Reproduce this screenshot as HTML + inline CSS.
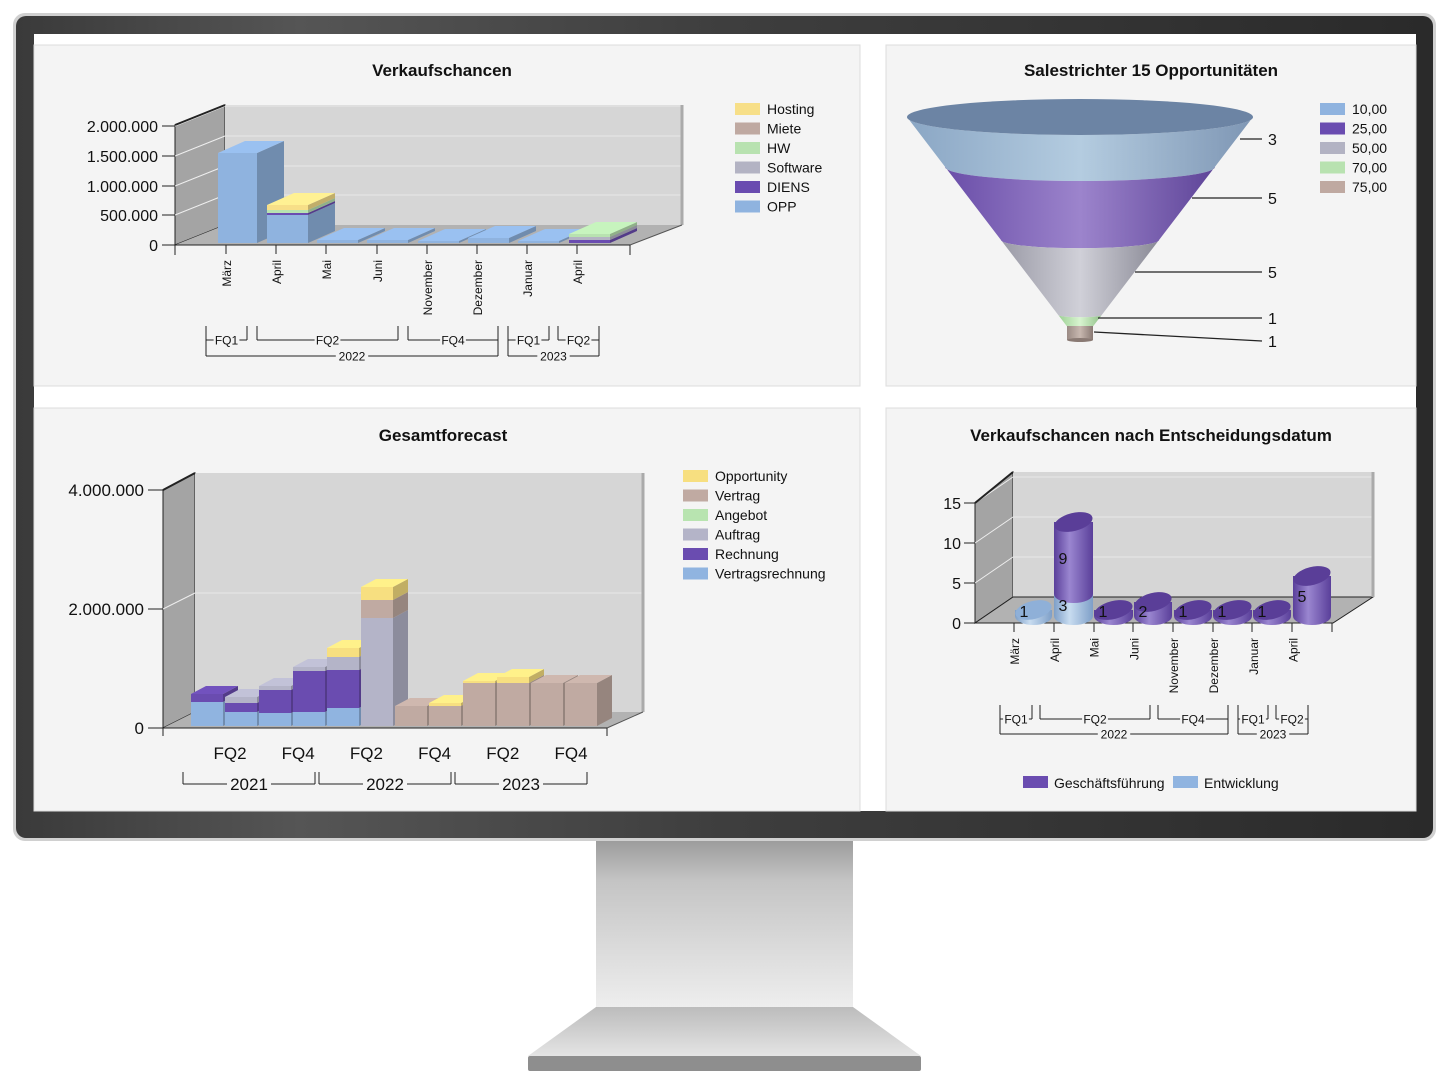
<!DOCTYPE html>
<html><head><meta charset="utf-8"><style>
html,body{margin:0;padding:0;background:#fff;width:1449px;height:1091px;overflow:hidden}
svg{display:block}
text{font-family:"Liberation Sans Narrow","Liberation Sans",sans-serif;fill:#111}
</style></head><body>
<svg id="s" width="1449" height="1091" viewBox="0 0 1449 1091" xmlns="http://www.w3.org/2000/svg">
<defs>
<linearGradient id="bez" x1="0" y1="0" x2="1" y2="0">
<stop offset="0" stop-color="#3a3a3a"/><stop offset="0.2" stop-color="#555"/><stop offset="0.5" stop-color="#3e3e3e"/><stop offset="1" stop-color="#2a2a2a"/></linearGradient>
<linearGradient id="neck" x1="0" y1="0" x2="0" y2="1">
<stop offset="0" stop-color="#999"/><stop offset="0.25" stop-color="#c4c4c4"/><stop offset="0.6" stop-color="#d8d8d8"/><stop offset="1" stop-color="#eee"/></linearGradient>
<linearGradient id="base" x1="0" y1="0" x2="0" y2="1">
<stop offset="0" stop-color="#bcbcbc"/><stop offset="1" stop-color="#e4e4e4"/></linearGradient>
<linearGradient id="cylP" x1="0" y1="0" x2="1" y2="0">
<stop offset="0" stop-color="#5a3f9a"/><stop offset="0.4" stop-color="#9a86d0"/><stop offset="1" stop-color="#5a3f9a"/></linearGradient>
<linearGradient id="cylB" x1="0" y1="0" x2="1" y2="0">
<stop offset="0" stop-color="#7e9fc8"/><stop offset="0.4" stop-color="#c8dcf0"/><stop offset="1" stop-color="#7e9fc8"/></linearGradient>
<linearGradient id="fBlue" x1="0" y1="0" x2="1" y2="0"><stop offset="0" stop-color="#8aa6c4"/><stop offset="0.5" stop-color="#b4cce0"/><stop offset="1" stop-color="#7e96b4"/></linearGradient>
<linearGradient id="fPur" x1="0" y1="0" x2="1" y2="0"><stop offset="0" stop-color="#6a4ea8"/><stop offset="0.5" stop-color="#9c84cc"/><stop offset="1" stop-color="#5e4498"/></linearGradient>
<linearGradient id="fGray" x1="0" y1="0" x2="1" y2="0"><stop offset="0" stop-color="#9a9aa6"/><stop offset="0.5" stop-color="#d0d0d8"/><stop offset="1" stop-color="#8a8a96"/></linearGradient>
<linearGradient id="fGreen" x1="0" y1="0" x2="1" y2="0"><stop offset="0" stop-color="#9cd094"/><stop offset="0.5" stop-color="#d8f4d0"/><stop offset="1" stop-color="#90c088"/></linearGradient>
<linearGradient id="fTaupe" x1="0" y1="0" x2="1" y2="0"><stop offset="0" stop-color="#9a8a84"/><stop offset="0.5" stop-color="#c8b8b0"/><stop offset="1" stop-color="#8a7a74"/></linearGradient>
</defs>
<rect x="596" y="838" width="257" height="170" fill="url(#neck)"/>
<polygon points="596,1007 853,1007 921,1056 528,1056" fill="url(#base)"/>
<rect x="528" y="1056" width="393" height="15" rx="2" fill="#8e8e8e"/>
<rect x="13" y="13" width="1423" height="828" rx="12" fill="#d0d0d0"/>
<rect x="16" y="16" width="1417" height="822" rx="10" fill="url(#bez)"/>
<rect x="34" y="34" width="1382" height="777" fill="#fff"/>
<rect x="34" y="45" width="826" height="341" fill="#f4f4f4" stroke="#ddd"/>
<rect x="886" y="45" width="530" height="341" fill="#f4f4f4" stroke="#ddd"/>
<rect x="34" y="408" width="826" height="403" fill="#f4f4f4" stroke="#ddd"/>
<rect x="886" y="408" width="530" height="403" fill="#f4f4f4" stroke="#ddd"/>
<g id="g"></g>
</svg>
<script>
var g=document.getElementById('g'),o='',labs='';
function shade(c,f){var n=parseInt(c.slice(1),16),r=(n>>16)&255,gg=(n>>8)&255,b=n&255;r=Math.round(r*f);gg=Math.round(gg*f);b=Math.round(b*f);return 'rgb('+Math.min(r,255)+','+Math.min(gg,255)+','+Math.min(b,255)+')';}
function T(x,y,s,sz,anc,extra){o+='<text x="'+x+'" y="'+y+'" font-size="'+sz+'" text-anchor="'+(anc||'start')+'" '+(extra||'')+'>'+s+'</text>';}
function P(pts,fill,st){o+='<polygon points="'+pts+'" fill="'+fill+'" stroke="'+(st||'none')+'" stroke-width="1"/>';}
function L(x1,y1,x2,y2,c,w){o+='<line x1="'+x1+'" y1="'+y1+'" x2="'+x2+'" y2="'+y2+'" stroke="'+(c||'#222')+'" stroke-width="'+(w||1)+'"/>';}
function bar(x,yb,w,segs,dx,dy){var y=yb;segs.forEach(function(s){var y2=y-s[0];o+='<rect x="'+x+'" y="'+y2+'" width="'+w+'" height="'+s[0]+'" fill="'+s[1]+'"/>';P((x+w)+','+y+' '+(x+w+dx)+','+(y+dy)+' '+(x+w+dx)+','+(y2+dy)+' '+(x+w)+','+y2,shade(s[1],0.78));y=y2;});var c=segs[segs.length-1][1];P(x+','+y+' '+(x+w)+','+y+' '+(x+w+dx)+','+(y+dy)+' '+(x+dx)+','+(y+dy),shade(c,1.08));}
function legend(x,y,items,step,sz){items.forEach(function(it,i){o+='<rect x="'+x+'" y="'+(y+i*step-6)+'" width="25" height="12" fill="'+it[1]+'"/>';T(x+32,y+i*step+5,it[0],sz);});}
function bracket(x1,x2,y,lab,sz,top){L(x1,y-(top||14),x1,y);L(x2,y-(top||14),x2,y);L(x1,y,x2,y);var w=lab.length*sz*0.55+6,cx=(x1+x2)/2;o+='<rect x="'+(cx-w/2)+'" y="'+(y-sz/2)+'" width="'+w+'" height="'+sz+'" fill="#f4f4f4"/>';T(cx,y+sz*0.38,lab,sz,'middle');}
var C={opp:'#8fb3df',diens:'#6a4cb0',sw:'#b3b3c3',hw:'#b8e2b0',miete:'#bfa9a1',host:'#f7df88'};
T(442,76,'Verkaufschancen',17,'middle','font-weight="bold"');
P('175,125 225,105 225,225 175,245','#a4a4a4','#222');
P('225,105 682,105 682,225 225,225','#d6d6d6');
P('175,245 630,245 682,225 225,225','#b2b2b2');
[126,156,186,215].forEach(function(y){L(175,y,225,y-20,'#eee');L(225,y-20,682,y-20,'#e8e8e8');});
L(682,105,682,225,'#aaa',3);L(630,245,682,225,'#555');
L(175,245,630,245,'#222');L(175,125,225,105,'#222',2);
[['2.000.000',126],['1.500.000',156],['1.000.000',186],['500.000',215],['0',245]].forEach(function(a){T(158,a[1]+6,a[0],16,'end');L(162,a[1],175,a[1]);});
bar(218,243,39,[[90,C.opp]],27,-12);
bar(267,243,41,[[28,C.opp],[2,C.diens],[3,C.hw],[5,C.host]],27,-12);
bar(317,243,41,[[3,C.opp]],27,-12);bar(367,243,41,[[3,C.opp]],27,-12);
bar(418,243,41,[[2,C.opp]],27,-12);bar(468,243,41,[[5,C.opp]],27,-12);
bar(518,243,41,[[2,C.opp]],27,-12);bar(569,243,41,[[3,C.diens],[3,C.sw],[3,C.hw]],27,-12);
[226,276,326,377,427,477,527,577].forEach(function(x,i){L(x,245,x,254);var n=['März','April','Mai','Juni','November','Dezember','Januar','April'][i];o+='<text x="'+(x+5)+'" y="260" font-size="12" text-anchor="end" transform="rotate(-90 '+(x+5)+' 260)">'+n+'</text>';});
L(175,245,175,255);L(630,245,630,255);
bracket(206,247,340,'FQ1',12);bracket(257,398,340,'FQ2',12);bracket(408,498,340,'FQ4',12);bracket(508,549,340,'FQ1',12);bracket(558,599,340,'FQ2',12);
bracket(206,498,356,'2022',12,16);bracket(508,599,356,'2023',12,16);
legend(735,109,[['Hosting',C.host],['Miete',C.miete],['HW',C.hw],['Software',C.sw],['DIENS',C.diens],['OPP',C.opp]],19.5,14);
T(1151,76,'Salestrichter 15 Opportunitäten',17,'middle','font-weight="bold"');
function hw(y){return 173-(y-117)*0.764;}
function seg(y1,y2,fill){var a=hw(y1),b=hw(y2);o+='<path d="M'+(1080-a)+','+y1+' A'+a+','+(a*0.104)+' 0 0 0 '+(1080+a)+','+y1+' L'+(1080+b)+','+y2+' A'+b+','+(b*0.104)+' 0 0 1 '+(1080-b)+','+y2+' Z" fill="'+fill+'"/>';}
seg(117,167,'url(#fBlue)');seg(167,240,'url(#fPur)');seg(240,315,'url(#fGray)');seg(315,326,'url(#fGreen)');
o+='<rect x="1067" y="326" width="26" height="14" fill="url(#fTaupe)"/><ellipse cx="1080" cy="340" rx="13" ry="2" fill="#8a7a74"/>';
o+='<ellipse cx="1080" cy="117" rx="173" ry="18" fill="#6c84a4"/>';
[[1240,139,1262,'3'],[1192,198,1262,'5'],[1135,272,1262,'5'],[1098,318,1262,'1'],[1094,332,1262,'1']].forEach(function(a,i){L(a[0],a[1],a[2],i==4?341:a[1],'#222',1.3);T(1268,(i==4?341:a[1])+6,a[3],16);});
legend(1320,109,[['10,00','#8fb3df'],['25,00','#6a4cb0'],['50,00','#b3b3c3'],['70,00','#b8e2b0'],['75,00','#bfa9a1']],19.5,14);
T(443,441,'Gesamtforecast',17,'middle','font-weight="bold"');
P('163,490 195,473 195,712 163,728','#a4a4a4','#222');
P('195,473 643,473 643,712 195,712','#d6d6d6');
P('163,728 607,728 643,712 195,712','#b2b2b2');
L(163,609,195,593,'#eee');L(195,593,643,593,'#e8e8e8');
L(643,473,643,712,'#aaa',3);L(607,728,643,712,'#555');L(163,728,607,728,'#222');L(163,490,195,473,'#222',2);
[['4.000.000',490],['2.000.000',609],['0',728]].forEach(function(a){T(144,a[1]+6,a[0],17,'end');L(148,a[1],163,a[1]);});
var D={op:'#f7df80',ve:'#c0aaa2',an:'#b8e4b0',au:'#b4b4c8',re:'#6a4cb0',vr:'#90b4e0'};
var B=[[[24,D.vr],[8,D.re]],[[14,D.vr],[9,D.re],[6,D.au]],[[13,D.vr],[23,D.re],[4,D.au]],[[14,D.vr],[41,D.re],[4,D.au]],[[18,D.vr],[38,D.re],[13,D.au],[9,D.op]],[[108,D.au],[18,D.ve],[13,D.op]],[[20,D.ve]],[[20,D.ve],[3,D.op]],[[43,D.ve],[2,D.op]],[[43,D.ve],[6,D.op]],[[43,D.ve]],[[43,D.ve]]];
B.forEach(function(s,i){bar(191+i*34,726,32,s,15,-8);});
L(163,728,163,736);L(607,728,607,736);
['FQ2','FQ4','FQ2','FQ4','FQ2','FQ4'].forEach(function(s,i){var x=230+i*68.2;T(x,759,s,17,'middle');});
[[183,315,'2021'],[319,451,'2022'],[455,587,'2023']].forEach(function(a){L(a[0],772,a[0],784);L(a[1],772,a[1],784);L(a[0],784,a[1],784);var cx=(a[0]+a[1])/2;o+='<rect x="'+(cx-22)+'" y="774" width="44" height="20" fill="#f4f4f4"/>';T(cx,790,a[2],17,'middle');});
legend(683,476,[['Opportunity',D.op],['Vertrag',D.ve],['Angebot',D.an],['Auftrag',D.au],['Rechnung',D.re],['Vertragsrechnung',D.vr]],19.5,14);
T(1151,441,'Verkaufschancen nach Entscheidungsdatum',17,'middle','font-weight="bold"');
P('975,503 1013,472 1013,597 975,623','#a4a4a4','#222');
P('1013,472 1373,472 1373,597 1013,597','#d6d6d6');
P('975,623 1333,623 1373,597 1013,597','#b2b2b2','#222');
[503,543,583].forEach(function(y){L(975,y,1013,y-26,'#eee');L(1013,y-26,1373,y-26,'#e8e8e8');});
L(1373,472,1373,597,'#aaa',3);L(975,503,1013,472,'#222',2);
[['15',503],['10',543],['5',583],['0',623]].forEach(function(a){T(961,a[1]+6,a[0],16,'end');L(964,a[1],975,a[1]);});
function cyl(x,w,yb,segs){var cx=x+w/2,rx=w/2,ry=9,y=yb;segs.forEach(function(s){var y2=y-s[0];o+='<path d="M'+x+','+y2+' L'+x+','+y+' A'+rx+','+ry+' 0 0 0 '+(x+w)+','+y+' L'+(x+w)+','+y2+' Z" fill="'+s[1]+'"/>';if(s[2])labs+='<text x="'+(x+9)+'" y="'+(s[0]>18?y-s[0]/2+6:y+1)+'" font-size="16" text-anchor="middle">'+s[2]+'</text>';y=y2;});var top=segs[segs.length-1][1]=='url(#cylB)'?'#8fb0d8':'#5a3e98';o+='<ellipse cx="'+cx+'" cy="'+y+'" rx="'+rx+'" ry="'+ry+'" fill="'+top+'" transform="rotate(-14 '+cx+' '+y+')"/>';}
var P4='url(#cylP)',B4='url(#cylB)';
cyl(1015,37,616,[[6,B4,'1']]);
cyl(1054,39,616,[[22,B4,'3'],[72,P4,'9']]);
cyl(1094,39,616,[[6,P4,'1']]);cyl(1134,38,616,[[14,P4,'2']]);
cyl(1174,38,616,[[6,P4,'1']]);cyl(1213,39,616,[[6,P4,'1']]);cyl(1253,38,616,[[6,P4,'1']]);
cyl(1293,38,616,[[40,P4,'5']]);
o+=labs;
[1014,1054,1094,1133,1173,1213,1252,1292,1332].forEach(function(x){L(x,623,x,632);});
['März','April','Mai','Juni','November','Dezember','Januar','April'].forEach(function(n,i){var x=1019+i*39.8;o+='<text x="'+x+'" y="638" font-size="12" text-anchor="end" transform="rotate(-90 '+x+' 638)">'+n+'</text>';});
bracket(1000,1032,719,'FQ1',12);bracket(1040,1150,719,'FQ2',12);bracket(1158,1228,719,'FQ4',12);bracket(1238,1268,719,'FQ1',12);bracket(1276,1308,719,'FQ2',12);
bracket(1000,1228,734,'2022',12,16);bracket(1238,1308,734,'2023',12,16);
o+='<rect x="1023" y="776" width="25" height="12" fill="#6a4cb0"/>';T(1054,788,'Geschäftsführung',14);
o+='<rect x="1173" y="776" width="25" height="12" fill="#90b4e0"/>';T(1204,788,'Entwicklung',14);
g.innerHTML=o;
</script>
</body></html>
